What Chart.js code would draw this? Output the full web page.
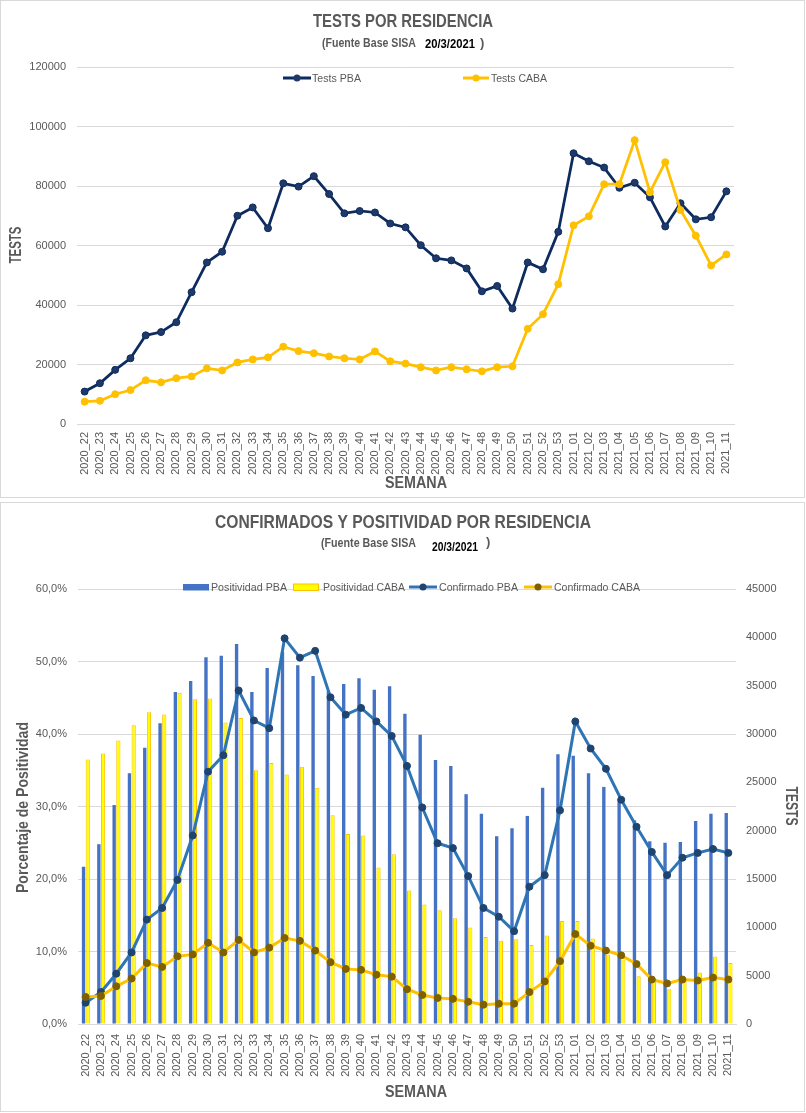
<!DOCTYPE html>
<html>
<head>
<meta charset="utf-8">
<script src="https://cdn.jsdelivr.net/npm/chart.js@4.4.1/dist/chart.umd.min.js"></script>
<style>
  html, body { margin: 0; padding: 0; background: #ffffff; width: 806px; height: 1113px; overflow: hidden; }
  canvas { position: absolute; left: 0; }
  .box { position: absolute; border: 1px solid #d9d9d9; box-sizing: border-box; pointer-events: none; }
</style>
</head>
<body>
<canvas id="c1" width="806" height="500" style="top:0px"></canvas>
<canvas id="c2" width="806" height="613" style="top:500px"></canvas>
<div class="box" style="left:0;top:0;width:805px;height:498px"></div>
<div class="box" style="left:0;top:502px;width:805px;height:610px"></div>
<script>
// ---------------- DATA ----------------
const weeks = [
  '2020_22','2020_23','2020_24','2020_25','2020_26','2020_27','2020_28','2020_29','2020_30','2020_31',
  '2020_32','2020_33','2020_34','2020_35','2020_36','2020_37','2020_38','2020_39','2020_40','2020_41',
  '2020_42','2020_43','2020_44','2020_45','2020_46','2020_47','2020_48','2020_49','2020_50','2020_51',
  '2020_52','2020_53','2021_01','2021_02','2021_03','2021_04','2021_05','2021_06','2021_07','2021_08',
  '2021_09','2021_10','2021_11'
];

const testsPBA = [
  10900, 13700, 18200, 22100, 29800, 30900, 34200, 44300, 54300, 57900,
  70000, 72800, 65800, 80900, 79800, 83300, 77300, 70800, 71600, 71100,
  67400, 66100, 60100, 55700, 55000, 52300, 44600, 46400, 38800, 54300,
  52000, 64600, 91000, 88300, 86200, 79400, 81100, 76200, 66400, 74200,
  68800, 69500, 78200
];
const testsCABA = [
  7500, 7800, 10000, 11400, 14700, 14000, 15400, 16000, 18700, 18000,
  20700, 21700, 22400, 26000, 24500, 23800, 22700, 22100, 21700, 24400,
  21100, 20300, 19100, 18000, 19100, 18400, 17700, 19100, 19400, 32000,
  36900, 47000, 66800, 69800, 80600, 80600, 95400, 77900, 88000, 71900,
  63300, 53300, 57000
];

const positividadPBA = [
  21.7, 24.8, 30.2, 34.6, 38.1, 41.5, 45.8, 47.3, 50.6, 50.8,
  52.4, 45.8, 49.1, 51.3, 49.5, 48.0, 45.9, 46.9, 47.7, 46.1,
  46.6, 42.8, 39.9, 36.4, 35.6, 31.7, 29.0, 25.9, 27.0, 28.7,
  32.6, 37.2, 37.0, 34.6, 32.7, 31.0, 28.1, 25.2, 25.0, 25.1,
  28.0, 29.0, 29.1
];
const positividadCABA = [
  36.5, 37.3, 39.1, 41.2, 43.0, 42.7, 45.7, 44.8, 44.9, 41.6,
  42.2, 35.0, 36.0, 34.4, 35.5, 32.6, 28.8, 26.2, 26.0, 21.6,
  23.4, 18.4, 16.5, 15.7, 14.6, 13.3, 12.0, 11.5, 11.7, 10.9,
  12.2, 14.2, 14.2, 11.8, 9.6, 8.9, 6.6, 5.9, 4.8, 6.2,
  7.1, 9.3, 8.4
];
const confirmadoPBA = [
  2200, 3300, 5200, 7400, 10800, 12000, 14900, 19500, 26100, 27800,
  34500, 31400, 30600, 39900, 37900, 38600, 33800, 32000, 32700, 31300,
  29800, 26700, 22400, 18700, 18200, 15300, 12000, 11100, 9600, 14200,
  15400, 22100, 31300, 28500, 26400, 23200, 20400, 17800, 15400, 17200,
  17700, 18100, 17700
];
const confirmadoCABA = [
  2800, 2900, 3900, 4700, 6300, 5900, 7000, 7200, 8400, 7400,
  8700, 7400, 7900, 8900, 8600, 7600, 6400, 5700, 5600, 5100,
  4900, 3600, 3000, 2700, 2600, 2300, 2000, 2100, 2100, 3300,
  4400, 6500, 9300, 8100, 7600, 7100, 6200, 4600, 4200, 4600,
  4500, 4800, 4600
];

// axis ranges / ticks
const testsAxis = { min: 0, max: 120000, step: 20000 };
const pctAxis = { min: 0, max: 60, step: 10 };
const confAxis = { min: 0, max: 45000, step: 5000 };

// ---------------- STYLE ----------------
const GRAY = '#595959';
const GRID = '#d9d9d9';
const SANS = "'Liberation Sans',Arial,sans-serif";

// draws titles, subtitles, axis titles and legend (text compressed to the
// narrow proportions of the original)
function decorations(cfg) {
  return {
    id: 'decor',
    afterDraw(chart) {
      const ctx = chart.ctx;
      const ds = chart.data.datasets;
      ctx.save();
      ctx.textBaseline = 'middle';
      ctx.textAlign = 'center';
      ctx.fillStyle = GRAY;
      ctx.font = 'bold 19px ' + SANS;
      ctx.fillText(cfg.title, cfg.cx, cfg.titleY, cfg.titleW);
      ctx.textAlign = 'left';
      cfg.sub.forEach(p => {
        ctx.font = 'bold 13px ' + SANS;
        ctx.fillStyle = p.color;
        ctx.fillText(p.text, p.x, p.y, p.w);
      });
      cfg.axisTitles.forEach(t => {
        ctx.save();
        ctx.translate(t.x, t.y);
        ctx.rotate(t.rot);
        ctx.textAlign = 'center';
        ctx.font = 'bold 16px ' + SANS;
        ctx.fillStyle = GRAY;
        ctx.fillText(t.text, 0, 0, t.w);
        ctx.restore();
      });
      cfg.legend.forEach(it => {
        const d = ds[it.ds];
        const y = cfg.legendY;
        if (it.kind === 'box') {
          ctx.fillStyle = d.backgroundColor;
          ctx.fillRect(it.x, y - 3, 26, 6.5);
          if (d.borderWidth) {
            ctx.strokeStyle = d.borderColor;
            ctx.lineWidth = 1;
            ctx.strokeRect(it.x + 0.5, y - 3, 25, 6.5);
          }
        } else {
          ctx.strokeStyle = d.borderColor;
          ctx.lineWidth = 3;
          ctx.beginPath();
          ctx.moveTo(it.x, y);
          ctx.lineTo(it.x + it.w, y);
          ctx.stroke();
          ctx.beginPath();
          ctx.arc(it.x + it.w / 2, y, 3.5, 0, Math.PI * 2);
          ctx.fillStyle = d.pointBackgroundColor;
          ctx.fill();
        }
        ctx.font = '11px ' + SANS;
        ctx.fillStyle = GRAY;
        ctx.fillText(d.label, it.tx, y + 0.5, it.tw);
      });
      ctx.restore();
    }
  };
}

const tickFont = { family: SANS, size: 11 };

// ---------------- TOP CHART ----------------
new Chart(document.getElementById('c1'), {
  type: 'line',
  data: {
    labels: weeks,
    datasets: [
      {
        label: 'Tests PBA', data: testsPBA, order: 1,
        borderColor: '#0D2B5E', backgroundColor: '#1F3A68',
        pointBackgroundColor: '#1F3A68', pointBorderColor: '#0D2B5E',
        borderWidth: 2.75, pointRadius: 3.5, pointBorderWidth: 1, tension: 0
      },
      {
        label: 'Tests CABA', data: testsCABA, order: 0,
        borderColor: '#FFC000', backgroundColor: '#FFC000',
        pointBackgroundColor: '#FFC000', pointBorderColor: '#FFC000',
        borderWidth: 2.75, pointRadius: 3.5, pointBorderWidth: 1, tension: 0
      }
    ]
  },
  options: {
    responsive: false,
    animation: false,
    layout: { padding: { top: 67, left: 0, right: 72, bottom: 0 } },
    plugins: { legend: { display: false }, tooltip: { enabled: false }, title: { display: false } },
    scales: {
      x: {
        offset: true,
        grid: { display: false, drawTicks: false },
        border: { display: true, color: GRID },
        ticks: { autoSkip: false, maxRotation: 90, minRotation: 90, padding: 8, color: GRAY, font: tickFont },
        title: { display: false, text: 'SEMANA' },
        afterFit(s) { s.height = 76; }
      },
      y: {
        min: testsAxis.min, max: testsAxis.max,
        ticks: { stepSize: testsAxis.step, padding: 11, color: GRAY, font: tickFont, callback: v => String(v) },
        grid: { color: GRID, drawTicks: false },
        border: { display: false },
        title: { display: false, text: 'TESTS' },
        afterFit(s) { s.width = 77; }
      }
    }
  },
  plugins: [decorations({
    title: 'TESTS POR RESIDENCIA', cx: 403, titleY: 22, titleW: 180,
    sub: [
      { text: '(Fuente Base SISA', x: 322, y: 43, w: 94, color: GRAY },
      { text: '20/3/2021', x: 425, y: 44, w: 50, color: '#000000' },
      { text: ')', x: 480, y: 43, w: 6, color: GRAY }
    ],
    axisTitles: [
      { text: 'TESTS', x: 17, y: 245, rot: -Math.PI / 2, w: 37 },
      { text: 'SEMANA', x: 416, y: 484, rot: 0, w: 62 }
    ],
    legendY: 78,
    legend: [
      { ds: 0, kind: 'line', x: 283, w: 28, tx: 312, tw: 49 },
      { ds: 1, kind: 'line', x: 463, w: 26, tx: 491, tw: 56 }
    ]
  })]
});

// ---------------- BOTTOM CHART ----------------
new Chart(document.getElementById('c2'), {
  type: 'bar',
  data: {
    labels: weeks,
    datasets: [
      {
        type: 'bar', label: 'Positividad PBA', data: positividadPBA, yAxisID: 'y', order: 2,
        backgroundColor: '#4472C4', borderWidth: 0,
        categoryPercentage: 0.55, barPercentage: 0.8
      },
      {
        type: 'bar', label: 'Positividad CABA', data: positividadCABA, yAxisID: 'y', order: 3,
        backgroundColor: '#FFFF00', borderColor: '#FFC000', borderWidth: 1, borderSkipped: 'bottom',
        categoryPercentage: 0.55, barPercentage: 1.0
      },
      {
        type: 'line', label: 'Confirmado PBA', data: confirmadoPBA, yAxisID: 'y1', order: 1,
        borderColor: '#2E75B6', backgroundColor: '#2E75B6',
        pointBackgroundColor: '#1F4470', pointBorderColor: '#1F4470',
        borderWidth: 3, pointRadius: 3.5, pointBorderWidth: 1, tension: 0
      },
      {
        type: 'line', label: 'Confirmado CABA', data: confirmadoCABA, yAxisID: 'y1', order: 0,
        borderColor: '#FFC000', backgroundColor: '#FFC000',
        pointBackgroundColor: '#7F6000', pointBorderColor: '#7F6000',
        borderWidth: 3, pointRadius: 3.5, pointBorderWidth: 1, tension: 0
      }
    ]
  },
  options: {
    responsive: false,
    animation: false,
    layout: { padding: { top: 89, left: 0, right: 0, bottom: 0 } },
    plugins: { legend: { display: false }, tooltip: { enabled: false }, title: { display: false } },
    scales: {
      x: {
        offset: true,
        grid: { display: false, drawTicks: false },
        border: { display: true, color: GRID },
        ticks: { autoSkip: false, maxRotation: 90, minRotation: 90, padding: 10, color: GRAY, font: tickFont },
        title: { display: false, text: 'SEMANA' },
        afterFit(s) { s.height = 89; }
      },
      y: {
        position: 'left',
        min: pctAxis.min, max: pctAxis.max,
        ticks: { stepSize: pctAxis.step, padding: 11, color: GRAY, font: tickFont,
                 callback: v => Number(v).toFixed(1).replace('.', ',') + '%' },
        grid: { color: GRID, drawTicks: false },
        border: { display: false },
        title: { display: false, text: 'Porcentaje de Positividad' },
        afterFit(s) { s.width = 78; }
      },
      y1: {
        position: 'right',
        min: confAxis.min, max: confAxis.max,
        ticks: { stepSize: confAxis.step, padding: 10, color: GRAY, font: tickFont, callback: v => String(v) },
        grid: { display: false, drawTicks: false },
        border: { display: false },
        title: { display: false, text: 'TESTS' },
        afterFit(s) { s.width = 70; }
      }
    }
  },
  plugins: [decorations({
    title: 'CONFIRMADOS Y POSITIVIDAD POR RESIDENCIA', cx: 403, titleY: 23, titleW: 376,
    sub: [
      { text: '(Fuente Base SISA', x: 321, y: 43, w: 95, color: GRAY },
      { text: '20/3/2021', x: 432, y: 47, w: 46, color: '#000000' },
      { text: ')', x: 486, y: 42, w: 6, color: GRAY }
    ],
    axisTitles: [
      { text: 'Porcentaje de Positividad', x: 24, y: 307.5, rot: -Math.PI / 2, w: 171 },
      { text: 'TESTS', x: 790, y: 306, rot: Math.PI / 2, w: 39 },
      { text: 'SEMANA', x: 416, y: 593, rot: 0, w: 62 }
    ],
    legendY: 87,
    legend: [
      { ds: 0, kind: 'box', x: 183, tx: 211, tw: 76 },
      { ds: 1, kind: 'box', x: 293, tx: 323, tw: 82 },
      { ds: 2, kind: 'line', x: 409, w: 28, tx: 439, tw: 79 },
      { ds: 3, kind: 'line', x: 524, w: 28, tx: 554, tw: 86 }
    ]
  })]
});
</script>
</body>
</html>
